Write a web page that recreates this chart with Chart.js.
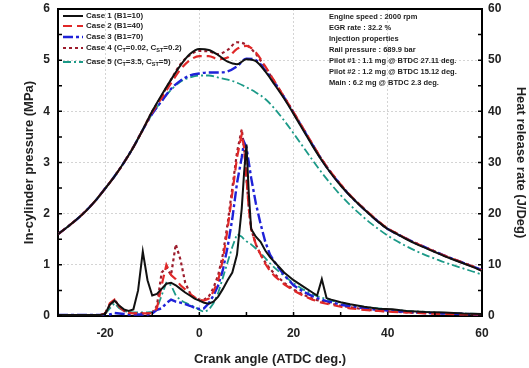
<!DOCTYPE html>
<html>
<head>
<meta charset="utf-8">
<script src="https://cdn.jsdelivr.net/npm/chart.js@4.4.1/dist/chart.umd.min.js"></script>
<style>
  html, body { margin: 0; padding: 0; background: #fff; }
  #wrap { width: 529px; height: 368px; position: relative; }
</style>
</head>
<body>
<div id="wrap"><canvas id="c"></canvas></div>
<script>
// crank angle for the pressure traces (ATDC deg.)
const pressureAngle = [-30, -28, -26, -24, -22, -20, -18, -16, -14, -12,
  -10, -8, -6, -4, -2, 0, 2, 4, 6, 8, 10, 12, 14, 16, 18,
  20, 22, 24, 26, 28, 30, 32, 34, 36, 38, 40, 42, 44, 46, 48,
  50, 52, 54, 56, 58, 60];

// in-cylinder pressure (MPa)
const case1P = [1.60, 1.74, 1.89, 2.06, 2.26, 2.49, 2.73, 3.00, 3.30, 3.64,
  4.00, 4.32, 4.62, 4.90, 5.12, 5.22, 5.20, 5.10, 4.97, 4.92,
  5.02, 4.98, 4.78, 4.52, 4.25, 3.95, 3.64, 3.33, 3.04, 2.78,
  2.55, 2.35, 2.17, 2.00, 1.84, 1.70, 1.60, 1.50, 1.41, 1.33,
  1.25, 1.17, 1.10, 1.03, 0.96, 0.88];
const case2P = [1.60, 1.74, 1.89, 2.06, 2.26, 2.49, 2.73, 3.00, 3.30, 3.64,
  3.98, 4.26, 4.55, 4.82, 5.00, 5.08, 5.08, 5.02, 5.05, 5.22,
  5.28, 5.15, 4.88, 4.58, 4.28, 3.98, 3.67, 3.36, 3.06, 2.80,
  2.57, 2.36, 2.18, 2.01, 1.85, 1.71, 1.61, 1.51, 1.42, 1.34,
  1.26, 1.18, 1.11, 1.04, 0.97, 0.89];
const case3P = [1.60, 1.74, 1.89, 2.06, 2.26, 2.49, 2.73, 3.00, 3.30, 3.64,
  3.95, 4.20, 4.44, 4.60, 4.70, 4.74, 4.76, 4.76, 4.78, 4.88,
  5.03, 5.00, 4.80, 4.55, 4.27, 3.97, 3.66, 3.35, 3.05, 2.79,
  2.56, 2.35, 2.17, 2.00, 1.84, 1.70, 1.60, 1.51, 1.42, 1.34,
  1.26, 1.18, 1.11, 1.04, 0.97, 0.90];
const case4P = [1.60, 1.74, 1.89, 2.06, 2.26, 2.49, 2.73, 3.00, 3.30, 3.64,
  4.00, 4.30, 4.62, 4.92, 5.10, 5.18, 5.17, 5.12, 5.20, 5.35,
  5.30, 5.12, 4.86, 4.57, 4.28, 3.98, 3.67, 3.36, 3.06, 2.80,
  2.57, 2.36, 2.18, 2.01, 1.85, 1.71, 1.61, 1.51, 1.42, 1.34,
  1.26, 1.18, 1.11, 1.04, 0.97, 0.89];
const case5P = [1.60, 1.74, 1.89, 2.06, 2.26, 2.49, 2.73, 3.00, 3.30, 3.64,
  3.95, 4.20, 4.42, 4.58, 4.66, 4.70, 4.70, 4.66, 4.62, 4.56,
  4.47, 4.37, 4.24, 4.05, 3.82, 3.57, 3.31, 3.05, 2.80, 2.57,
  2.36, 2.17, 2.00, 1.84, 1.70, 1.57, 1.46, 1.36, 1.27, 1.19,
  1.12, 1.05, 0.99, 0.93, 0.87, 0.81];

// crank angle for the heat release traces
const hrrAngle = [-30, -21,
  -20, -19, -18, -17, -16, -15, -14, -13, -12, -11,
  -10, -9, -8, -7, -6, -5, -4, -3, -2, -1,
  0, 1, 2, 3, 4, 5, 6, 7, 8, 9,
  9.5, 10, 10.5, 11,
  12, 13, 14, 15, 16,
  18, 20, 22, 24,
  25, 26, 27, 28,
  30, 32, 35, 38, 41, 44, 48, 52, 56, 60];

// heat release rate (J/deg)
const case1H = [0.2, 0.2,
  0.4, 2.2, 3.0, 2.0, 1.3, 1.0, 1.3, 5.0, 12.6, 7.0,
  4.0, 4.3, 5.3, 6.3, 6.5, 6.0, 5.3, 4.6, 4.0, 3.4,
  3.0, 2.6, 2.4, 2.8, 3.8, 5.3, 7.0, 8.5, 12.0, 21.0,
  28.0, 33.5, 24.0, 17.0,
  15.5, 14.5, 12.8, 11.5, 10.5,
  8.5, 7.0, 5.8, 4.6,
  4.0, 7.2, 3.5, 3.2,
  2.7, 2.3, 1.8, 1.4, 1.3, 1.0, 0.8, 0.7, 0.5, 0.4];
const case2H = [0.2, 0.2,
  0.5, 2.5, 3.2, 1.8, 1.0, 0.6, 0.5, 0.5, 0.5, 0.5,
  0.6, 1.5, 6.0, 10.0, 8.0, 7.2, 6.0, 5.2, 4.4, 3.6,
  3.2, 3.0, 3.4, 4.8, 7.0, 11.0, 17.0, 24.0, 31.0, 35.5,
  33.0, 27.0, 21.0, 17.0,
  14.0, 12.0, 10.2, 8.8, 7.8,
  6.2, 5.0, 4.0, 3.2,
  2.9, 2.6, 2.4, 2.2,
  1.8, 1.5, 1.2, 1.0, 0.8, 0.7, 0.5, 0.4, 0.3, 0.3];
const case3H = [0.2, 0.2,
  0.2, 0.3, 0.6, 0.5, 0.4, 0.3, 0.3, 0.3, 0.3, 0.3,
  0.5, 1.2, 1.5, 2.5, 3.2, 2.8, 2.6, 2.3, 2.0, 1.6,
  1.4, 1.5, 2.5, 4.0, 6.0, 9.0, 13.5, 19.0, 26.0, 31.0,
  34.0, 33.0, 30.0, 27.0,
  22.0, 18.0, 14.5, 12.0, 10.5,
  8.0, 6.0, 4.8, 3.9,
  3.5, 3.2, 2.9, 2.7,
  2.2, 1.9, 1.5, 1.2, 1.0, 0.8, 0.6, 0.5, 0.4, 0.3];
const case4H = [0.2, 0.2,
  0.4, 2.2, 3.2, 2.0, 1.0, 0.6, 0.5, 0.5, 0.5, 0.5,
  0.6, 2.0, 8.5, 9.5, 8.0, 14.0, 11.0, 6.5, 4.5, 3.6,
  3.2, 3.2, 3.8, 5.5, 8.0, 12.0, 18.0, 25.0, 32.0, 36.5,
  33.0, 27.0, 21.0, 17.0,
  14.0, 12.0, 10.5, 9.2, 8.2,
  6.5, 5.2, 4.2, 3.4,
  3.1, 2.9, 2.7, 2.4,
  2.0, 1.7, 1.3, 1.0, 0.9, 0.7, 0.6, 0.5, 0.4, 0.3];
const case5H = [0.2, 0.2,
  0.4, 1.5, 2.5, 1.5, 1.0, 0.8, 0.7, 0.7, 0.7, 0.7,
  0.8, 1.5, 4.0, 6.5, 6.0, 4.0, 3.1, 2.6, 2.2, 1.8,
  1.2, 0.8, 1.2, 2.5, 4.5, 7.5, 10.5, 13.5, 16.0, 15.5,
  15.0, 14.6, 14.3, 14.0,
  13.2, 12.3, 11.3, 10.3, 9.4,
  7.8, 6.4, 5.2, 4.3,
  3.9, 3.6, 3.3, 3.0,
  2.6, 2.2, 1.8, 1.5, 1.2, 1.0, 0.8, 0.6, 0.5, 0.4];

const xTicks = [-20, 0, 20, 40, 60];

// legend text pieces: [text, isSubscript]
const caseLabels = [
  [["Case 1 (B1=10)", false]],
  [["Case 2 (B1=40)", false]],
  [["Case 3 (B1=70)", false]],
  [["Case 4 (C", false], ["T", true], ["=0.02, C", false], ["ST", true], ["=0.2)", false]],
  [["Case 5 (C", false], ["T", true], ["=3.5, C", false], ["ST", true], ["=5)", false]]
];
const notes = [
  "Engine speed : 2000 rpm",
  "EGR rate : 32.2 %",
  "Injection properties",
  "Rail pressure : 689.9 bar",
  "Pilot #1 : 1.1 mg @ BTDC 27.11 deg.",
  "Pilot #2 : 1.2 mg @ BTDC 15.12 deg.",
  "Main : 6.2 mg @ BTDC 2.3 deg."
];

const FONT = '"Liberation Sans", Arial, sans-serif';

const styles = [
  { color: "#111111", dash: [], width: 2 },
  { color: "#e02828", dash: [9, 5], width: 2.2 },
  { color: "#1f22d8", dash: [10, 3, 3, 3], width: 2.4 },
  { color: "#9c1c2c", dash: [3, 3], width: 2.2 },
  { color: "#1c9a88", dash: [8, 3, 2, 3], width: 1.8 }
];
const pressures = [case1P, case2P, case3P, case4P, case5P];
const heats = [case1H, case2H, case3H, case4H, case5H];

const toPoints = (xs, ys) => xs.map((x, i) => ({ x: x, y: ys[i] }));

const datasets = [];
styles.forEach((s, i) => {
  datasets.push({
    data: toPoints(pressureAngle, pressures[i]),
    yAxisID: "y",
    borderColor: s.color,
    borderDash: s.dash,
    borderWidth: s.width,
    pointRadius: 0,
    cubicInterpolationMode: "monotone",
    fill: false
  });
  datasets.push({
    data: toPoints(hrrAngle, heats[i]),
    yAxisID: "y2",
    borderColor: s.color,
    borderDash: s.dash,
    borderWidth: s.width,
    pointRadius: 0,
    tension: 0,
    fill: false
  });
});

const overlay = {
  id: "overlay",
  afterDraw(chart) {
    const { ctx, chartArea: a, scales } = chart;
    ctx.save();
    // top frame line
    ctx.strokeStyle = "#000";
    ctx.lineWidth = 2;
    ctx.beginPath();
    ctx.moveTo(a.left - 1, a.top);
    ctx.lineTo(a.right + 1, a.top);
    ctx.stroke();

    // inward tick marks
    ctx.lineWidth = 1.5;
    ctx.beginPath();
    for (let v = 0; v <= 6; v += 0.5) {
      const y = scales.y.getPixelForValue(v);
      ctx.moveTo(a.left, y);
      ctx.lineTo(a.left + 4, y);
    }
    for (let v = 0; v <= 60; v += 5) {
      const y = scales.y2.getPixelForValue(v);
      ctx.moveTo(a.right, y);
      ctx.lineTo(a.right - 4, y);
    }
    for (let v = -30; v <= 60; v += 10) {
      const x = scales.x.getPixelForValue(v);
      ctx.moveTo(x, a.bottom);
      ctx.lineTo(x, a.bottom - 4);
    }
    ctx.stroke();

    // legend
    const legendY = [16, 26, 37, 48, 62];
    ctx.textBaseline = "middle";
    styles.forEach((s, i) => {
      const y = legendY[i];
      ctx.strokeStyle = s.color;
      ctx.lineWidth = s.width;
      ctx.setLineDash(s.dash);
      ctx.beginPath();
      ctx.moveTo(63, y);
      ctx.lineTo(83, y);
      ctx.stroke();
      ctx.setLineDash([]);
      let x = 86;
      ctx.fillStyle = "#222";
      caseLabels[i].forEach(([t, sub]) => {
        ctx.font = (sub ? "bold 5.5px " : "bold 8px ") + FONT;
        ctx.fillText(t, x, sub ? y + 2.5 : y);
        x += ctx.measureText(t).width;
      });
    });

    // engine notes
    ctx.font = "bold 7.5px " + FONT;
    ctx.fillStyle = "#222";
    notes.forEach((t, i) => ctx.fillText(t, 329, 17 + i * 11));
    ctx.restore();
  }
};

const tickFont = { family: FONT, size: 12, weight: "bold" };
const titleFont = { family: FONT, size: 13, weight: "bold" };
const noVertPad = (s, w) => { s.width = w; s.paddingTop = 0; s.paddingBottom = 0; };

new Chart(document.getElementById("c"), {
  type: "line",
  data: { datasets },
  options: {
    responsive: true,
    maintainAspectRatio: false,
    animation: false,
    layout: { padding: { top: 9, left: 0, right: 0, bottom: 0 } },
    plugins: { legend: { display: false }, tooltip: { enabled: false } },
    scales: {
      x: {
        type: "linear",
        min: -30,
        max: 60,
        afterBuildTicks: (s) => { s.ticks = xTicks.map((v) => ({ value: v })); },
        afterFit: (s) => { s.height = 52; s.paddingLeft = 0; s.paddingRight = 0; },
        ticks: { color: "#222", font: tickFont, padding: 10 },
        grid: {
          drawTicks: false,
          color: (c) => (c.tick && c.tick.value === 60 ? "rgba(0,0,0,0)" : "#d4d4d4")
        },
        border: { display: true, color: "#000", width: 2, dash: [2, 2] },
        title: { display: true, text: "Crank angle (ATDC deg.)", color: "#222", font: titleFont, padding: { top: 0, bottom: 1 } }
      },
      y: {
        position: "left",
        min: 0,
        max: 6,
        afterFit: (s) => noVertPad(s, 58),
        ticks: { stepSize: 1, color: "#222", font: tickFont, padding: 8 },
        grid: {
          drawTicks: false,
          color: (c) => (c.tick && (c.tick.value === 0 || c.tick.value === 6) ? "rgba(0,0,0,0)" : "#d4d4d4")
        },
        border: { display: true, color: "#000", width: 2, dash: [2, 2] },
        title: { display: true, text: "In-cylinder pressure (MPa)", color: "#222", font: titleFont, padding: { top: 22, bottom: 0 } }
      },
      y2: {
        position: "right",
        min: 0,
        max: 60,
        afterFit: (s) => noVertPad(s, 47),
        ticks: { stepSize: 10, color: "#222", font: tickFont, padding: 6 },
        grid: { drawOnChartArea: false, drawTicks: false },
        border: { display: true, color: "#000", width: 2 },
        title: { display: true, text: "Heat release rate (J/Deg)", color: "#222", font: titleFont, padding: { top: 1, bottom: 0 } }
      }
    }
  },
  plugins: [overlay]
});
</script>
</body>
</html>
